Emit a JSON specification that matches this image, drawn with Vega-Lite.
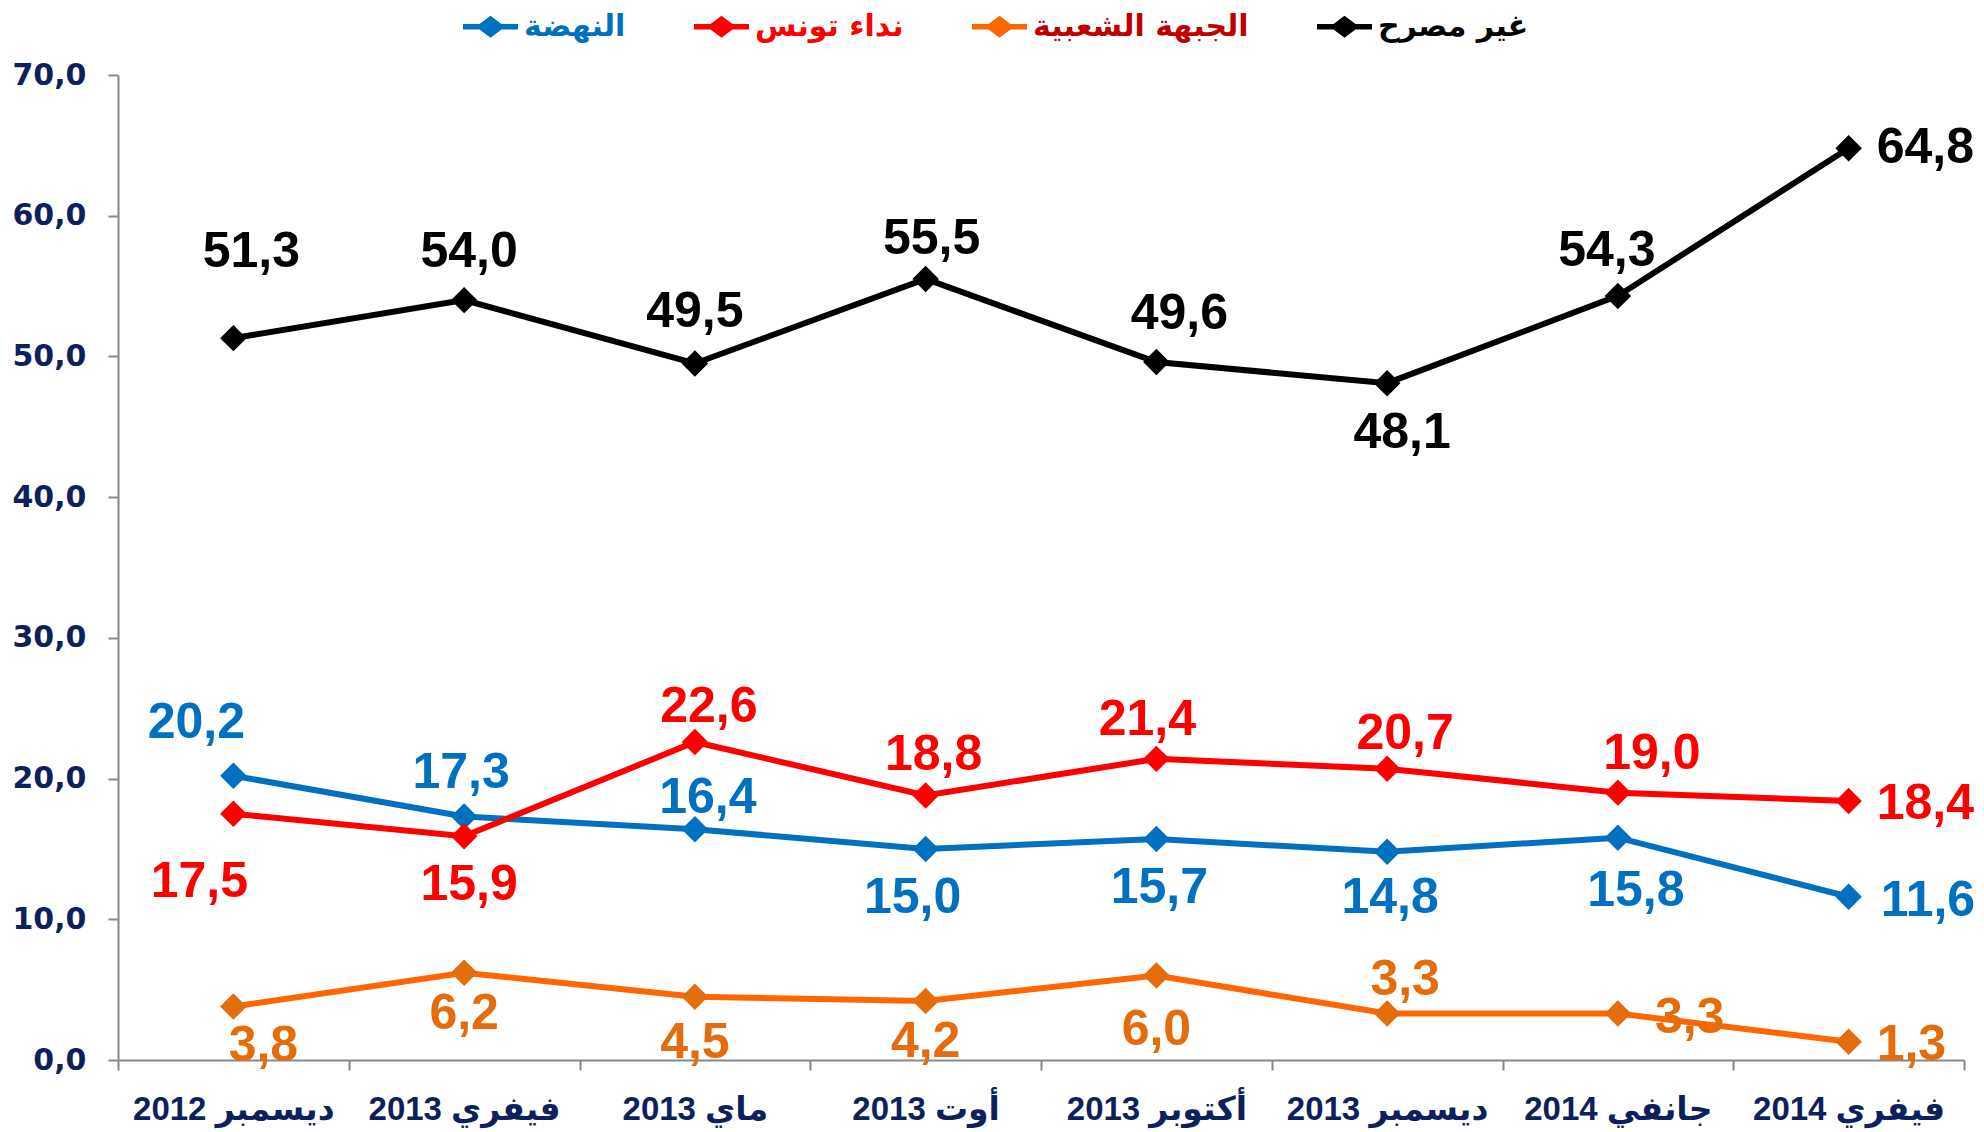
{
  "$schema": "https://vega.github.io/schema/vega-lite/v6.json",
  "width": 1846,
  "height": 985,
  "autosize": {"type": "none"},
  "padding": {"left": 118, "top": 75, "right": 20, "bottom": 72},
  "background": "white",
  "config": {
    "locale": {"number": {"decimal": ",", "thousands": " ", "grouping": [3], "currency": ["", ""]}},
    "view": {"stroke": null},
    "axis": {"grid": false}
  },
  "data": {
    "values": [
      {"series": "غير مصرح", "month": "ديسمبر 2012", "value": 51.3},
      {"series": "غير مصرح", "month": "فيفري 2013", "value": 54.0},
      {"series": "غير مصرح", "month": "ماي 2013", "value": 49.5},
      {"series": "غير مصرح", "month": "أوت 2013", "value": 55.5},
      {"series": "غير مصرح", "month": "أكتوبر 2013", "value": 49.6},
      {"series": "غير مصرح", "month": "ديسمبر 2013", "value": 48.1},
      {"series": "غير مصرح", "month": "جانفي 2014", "value": 54.3},
      {"series": "غير مصرح", "month": "فيفري 2014", "value": 64.8},
      {"series": "النهضة", "month": "ديسمبر 2012", "value": 20.2},
      {"series": "النهضة", "month": "فيفري 2013", "value": 17.3},
      {"series": "النهضة", "month": "ماي 2013", "value": 16.4},
      {"series": "النهضة", "month": "أوت 2013", "value": 15.0},
      {"series": "النهضة", "month": "أكتوبر 2013", "value": 15.7},
      {"series": "النهضة", "month": "ديسمبر 2013", "value": 14.8},
      {"series": "النهضة", "month": "جانفي 2014", "value": 15.8},
      {"series": "النهضة", "month": "فيفري 2014", "value": 11.6},
      {"series": "نداء تونس", "month": "ديسمبر 2012", "value": 17.5},
      {"series": "نداء تونس", "month": "فيفري 2013", "value": 15.9},
      {"series": "نداء تونس", "month": "ماي 2013", "value": 22.6},
      {"series": "نداء تونس", "month": "أوت 2013", "value": 18.8},
      {"series": "نداء تونس", "month": "أكتوبر 2013", "value": 21.4},
      {"series": "نداء تونس", "month": "ديسمبر 2013", "value": 20.7},
      {"series": "نداء تونس", "month": "جانفي 2014", "value": 19.0},
      {"series": "نداء تونس", "month": "فيفري 2014", "value": 18.4},
      {"series": "الجبهة الشعبية", "month": "ديسمبر 2012", "value": 3.8},
      {"series": "الجبهة الشعبية", "month": "فيفري 2013", "value": 6.2},
      {"series": "الجبهة الشعبية", "month": "ماي 2013", "value": 4.5},
      {"series": "الجبهة الشعبية", "month": "أوت 2013", "value": 4.2},
      {"series": "الجبهة الشعبية", "month": "أكتوبر 2013", "value": 6.0},
      {"series": "الجبهة الشعبية", "month": "ديسمبر 2013", "value": 3.3},
      {"series": "الجبهة الشعبية", "month": "جانفي 2014", "value": 3.3},
      {"series": "الجبهة الشعبية", "month": "فيفري 2014", "value": 1.3}
    ]
  },
  "encoding": {
    "x": {
      "field": "month", "type": "nominal",
      "sort": ["ديسمبر 2012", "فيفري 2013", "ماي 2013", "أوت 2013", "أكتوبر 2013", "ديسمبر 2013", "جانفي 2014", "فيفري 2014"],
      "scale": {"paddingInner": 0, "paddingOuter": 0},
      "axis": {
        "title": null, "tickBand": "extent", "ticks": true, "tickSize": 10,
        "tickColor": "#888888", "tickWidth": 2, "domainColor": "#888888", "domainWidth": 2,
        "labelFont": "Liberation Sans Narrow, Liberation Sans, DejaVu Sans", "labelFontSize": 33, "labelFontWeight": "bold",
        "labelColor": "#0D1F5C", "labelPadding": 23, "labelAngle": 0, "labelLimit": 400,
        "labelExpr": "'\u202B' + datum.label + '\u202C'"
      }
    },
    "y": {
      "field": "value", "type": "quantitative",
      "scale": {"domain": [0, 70]},
      "axis": {
        "title": null, "values": [0, 10, 20, 30, 40, 50, 60, 70], "format": ".1f",
        "labelFont": "DejaVu Sans", "labelFontSize": 30, "labelFontWeight": "bold", "labelColor": "#0D1F5C",
        "tickSize": 10, "tickColor": "#888888", "tickWidth": 2, "domainColor": "#888888", "domainWidth": 2,
        "labelPadding": 22
      }
    }
  },
  "layer": [
    {
      "mark": {"type": "line", "strokeWidth": 6},
      "encoding": {
        "color": {
          "field": "series", "type": "nominal",
          "scale": {"domain": ["النهضة", "نداء تونس", "الجبهة الشعبية", "غير مصرح"], "range": ["#0070C0", "#FF0000", "#FF6600", "#000000"]},
          "legend": {
            "orient": "none", "legendX": 345, "legendY": -76, "direction": "horizontal", "title": null,
            "symbolType": "M-1,-0.1L-0.4,-0.1L0,-0.4L0.4,-0.1L1,-0.1L1,0.1L0.4,0.1L0,0.4L-0.4,0.1L-1,0.1Z",
            "symbolSize": 3025, "symbolStrokeWidth": 0,
            "labelFont": "DejaVu Sans", "labelFontSize": 30, "labelFontWeight": "bold",
            "labelOffset": 6, "columnPadding": 68, "labelLimit": 400,
            "encode": {
              "symbols": {"update": {
                "shape": {"value": "M-1,-0.1L-0.4,-0.1L0,-0.4L0.4,-0.1L1,-0.1L1,0.1L0.4,0.1L0,0.4L-0.4,0.1L-1,0.1Z"},
                "size": {"value": 3025},
                "fill": {"signal": "datum.value === 'النهضة' ? '#0070C0' : datum.value === 'نداء تونس' ? '#FF0000' : datum.value === 'الجبهة الشعبية' ? '#FF6600' : '#000000'"},
                "stroke": {"value": "transparent"},
                "opacity": {"value": 1}
              }},
              "labels": {"update": {
                "fill": {"signal": "datum.value === 'النهضة' ? '#0070C0' : datum.value === 'نداء تونس' ? '#FF0000' : datum.value === 'الجبهة الشعبية' ? '#C00000' : '#000000'"}
              }}
            }
          }
        }
      }
    },
    {
      "mark": {"type": "point", "shape": "diamond", "filled": true, "size": 700, "opacity": 1},
      "encoding": {
        "color": {
          "field": "series", "type": "nominal",
          "scale": {"domain": ["النهضة", "نداء تونس", "الجبهة الشعبية", "غير مصرح"], "range": ["#0070C0", "#FF0000", "#E46C0A", "#000000"]},
          "legend": null
        }
      }
    },
    {
      "mark": {
        "type": "text", "fontSize": 50, "fontWeight": "bold", "baseline": "middle",
        "font": {"expr": "datum.series === 'الجبهة الشعبية' ? 'Liberation Sans Narrow, Liberation Sans' : 'Liberation Sans'"},
        "align": {"expr": "(datum.month === 'فيفري 2014' || (datum.series === 'الجبهة الشعبية' && datum.month === 'جانفي 2014')) ? 'left' : 'center'"},
        "dx": {"expr": "[18,5,0,6,23,15,-11,28,-37,-3,13,-13,3,3,18,32,-34,5,14,8,-9,18,34,28,30,0,0,0,0,18,37,28][indexof(['غير مصرح','النهضة','نداء تونس','الجبهة الشعبية'], datum.series) * 8 + indexof(['ديسمبر 2012','فيفري 2013','ماي 2013','أوت 2013','أكتوبر 2013','ديسمبر 2013','جانفي 2014','فيفري 2014'], datum.month)]"},
        "dy": {"expr": "[-86,-48,-51,-40,-48,50,-45,0,-53,-44,-31,49,49,46,53,4,68,49,-35,-40,-39,-35,-39,3,39,41,46,41,54,-34,4,3][indexof(['غير مصرح','النهضة','نداء تونس','الجبهة الشعبية'], datum.series) * 8 + indexof(['ديسمبر 2012','فيفري 2013','ماي 2013','أوت 2013','أكتوبر 2013','ديسمبر 2013','جانفي 2014','فيفري 2014'], datum.month)]"}
      },
      "encoding": {
        "text": {"field": "value", "type": "quantitative", "format": ".1f"},
        "color": {"field": "series", "type": "nominal", "scale": {"domain": ["النهضة", "نداء تونس", "الجبهة الشعبية", "غير مصرح"], "range": ["#0070C0", "#FF0000", "#E46C0A", "#000000"]}, "legend": null}
      }
    }
  ],
  "resolve": {"scale": {"color": "independent"}}
}
